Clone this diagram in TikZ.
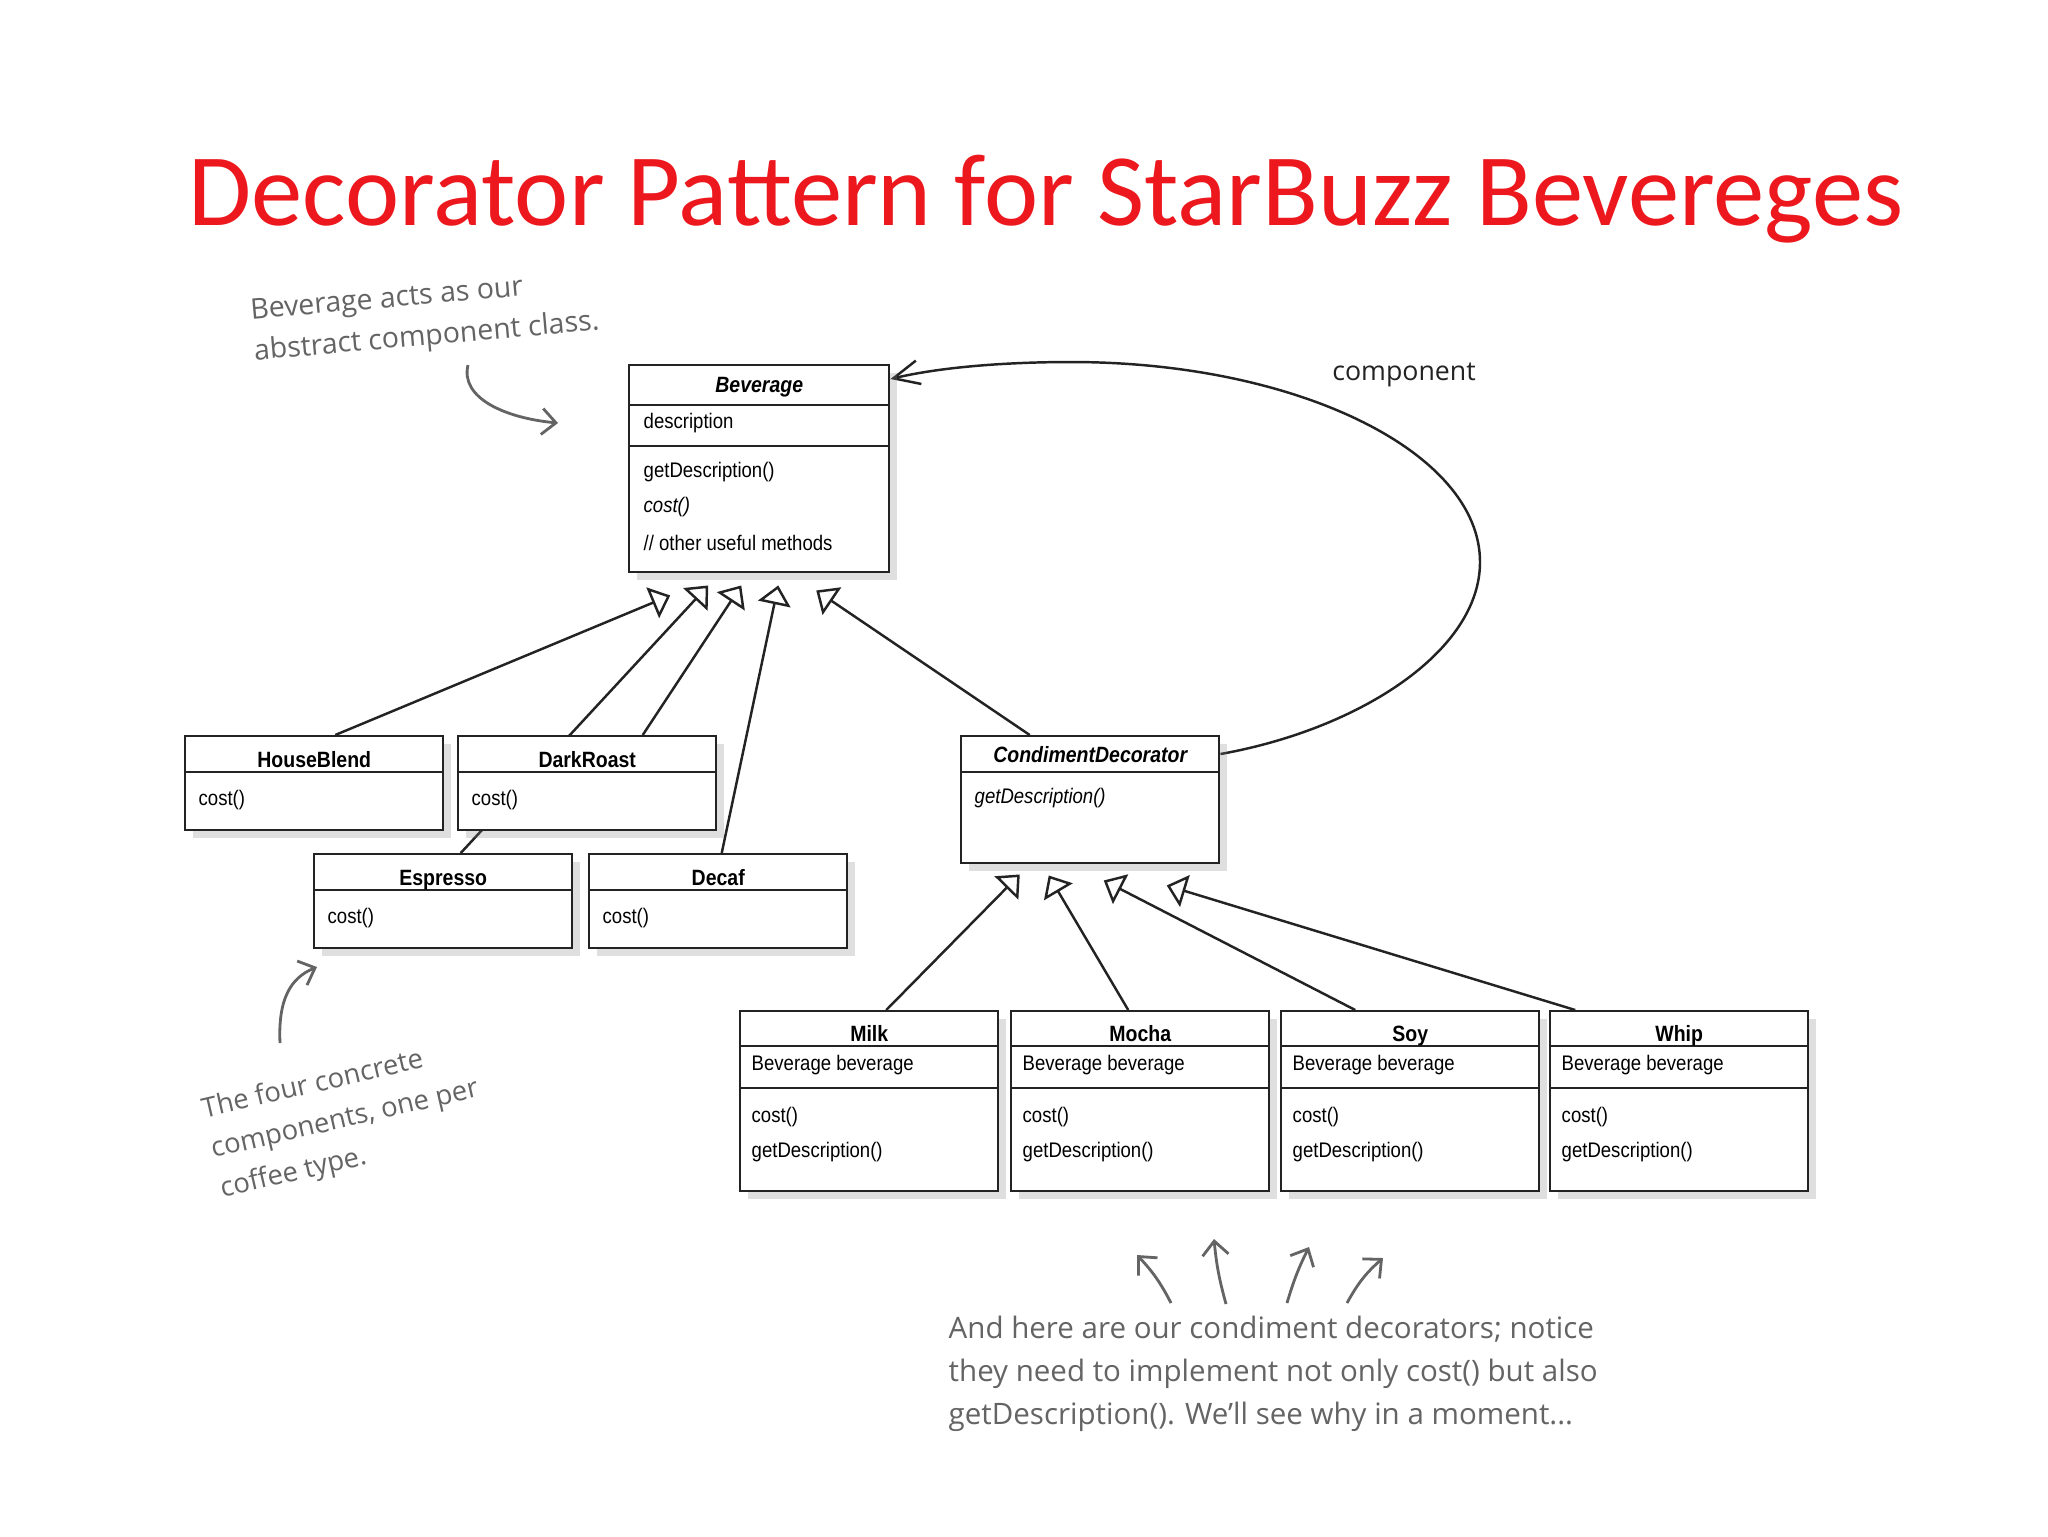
\documentclass[tikz,border=0pt]{standalone}
\usepackage{fontspec}
\setmainfont{Liberation Sans}
\newfontfamily\umlfont[FakeStretch=0.88]{Liberation Sans}
\newfontfamily\titlefont{Carlito}
\newfontfamily\notefont{Open Sans}
\usetikzlibrary{arrows.meta, positioning, calc, shadows, backgrounds}
\definecolor{titlered}{RGB}{236,24,30}
\definecolor{pencil}{RGB}{100,100,100}
\definecolor{inkline}{RGB}{35,35,35}

\begin{document}
\begin{tikzpicture}[x=0.1mm, y=-0.1mm,
  cls/.style={draw=inkline, line width=0.7pt, fill=white, inner sep=0pt, minimum width=25.8mm,
    drop shadow={shadow xshift=0.8mm, shadow yshift=-0.8mm, opacity=0.25}},
  sep/.style={draw=inkline, line width=0.6pt},
  clsname/.style={font=\umlfont\fontsize{6.3}{7}\selectfont\bfseries, inner sep=0pt, anchor=base},
  absname/.style={font=\umlfont\fontsize{6.3}{7}\selectfont\bfseries\itshape, inner sep=0pt, anchor=base},
  member/.style={font=\umlfont\fontsize{6}{7}\selectfont, inner sep=0pt, anchor=west},
  absmember/.style={member, font=\umlfont\fontsize{6}{7}\selectfont\itshape},
  inherit/.style={draw=inkline, line width=0.7pt, -{Triangle[open, length=1.9mm, width=3.3mm]}},
  note/.style={font=\notefont\fontsize{7.8}{11.6}\selectfont, text=pencil, align=left, inner sep=0pt},
  notearrow/.style={draw=pencil, line width=0.8pt, -{Straight Barb[length=1.4mm, width=2.6mm]}}
]
  \useasboundingbox (0,0) rectangle (2048,1536);
  \node[font=\titlefont\fontsize{29.2}{35}\selectfont, text=titlered, anchor=base] (title) at (1046,225)
    {Decorator Pattern for StarBuzz Bevereges};

  % abstract component
  \node[cls, minimum width=26mm, minimum height=20.7mm, anchor=north west] (bev) at (628,364) {};
  \draw[sep] ([yshift=-4.1mm]bev.north west) -- ([yshift=-4.1mm]bev.north east);
  \draw[sep] ([yshift=-8.2mm]bev.north west) -- ([yshift=-8.2mm]bev.north east);
  \node[absname] (bev-name) at ([yshift=-2.8mm]bev.north) {Beverage};
  \node[member] (bev-desc) at ([xshift=1.5mm, yshift=-5.9mm]bev.north west) {description};
  \node[member] (bev-get) at ([xshift=1.5mm, yshift=-10.8mm]bev.north west) {getDescription()};
  \node[absmember] (bev-cost) at ([xshift=1.5mm, yshift=-14.3mm]bev.north west) {cost()};
  \node[member] (bev-other) at ([xshift=1.5mm, yshift=-17.9mm]bev.north west) {// other useful methods};

  % concrete components
  \foreach \n/\t/\x/\y in {hb/HouseBlend/184/735, dr/DarkRoast/457/735, esp/Espresso/313/853, dec/Decaf/588/853} {
    \node[cls, minimum height=9.4mm, anchor=north west] (\n) at (\x,\y) {};
    \draw[sep] ([yshift=-3.7mm]\n.north west) -- ([yshift=-3.7mm]\n.north east);
    \node[clsname] (\n-name) at ([yshift=-3.2mm]\n.north) {\t};
    \node[member] (\n-cost) at ([xshift=1.4mm, yshift=-6.5mm]\n.north west) {cost()};
  }

  % decorator
  \node[cls, minimum height=12.7mm, anchor=north west] (cd) at (960,735) {};
  \draw[sep] ([yshift=-3.7mm]cd.north west) -- ([yshift=-3.7mm]cd.north east);
  \node[absname] (cd-name) at ([yshift=-2.7mm]cd.north) {CondimentDecorator};
  \node[absmember] (cd-get) at ([xshift=1.4mm, yshift=-6.3mm]cd.north west) {getDescription()};

  \foreach \n/\t/\x in {milk/Milk/739, mocha/Mocha/1010, soy/Soy/1280, whip/Whip/1549} {
    \node[cls, minimum height=18mm, anchor=north west] (\n) at (\x,1010) {};
    \draw[sep] ([yshift=-3.6mm]\n.north west) -- ([yshift=-3.6mm]\n.north east);
    \draw[sep] ([yshift=-7.8mm]\n.north west) -- ([yshift=-7.8mm]\n.north east);
    \node[clsname] (\n-name) at ([yshift=-3.1mm]\n.north) {\t};
    \node[member] (\n-attr) at ([xshift=1.2mm, yshift=-5.5mm]\n.north west) {Beverage beverage};
    \node[member] (\n-cost) at ([xshift=1.2mm, yshift=-10.7mm]\n.north west) {cost()};
    \node[member] (\n-get) at ([xshift=1.2mm, yshift=-14.2mm]\n.north west) {getDescription()};
  }

  \node[font=\notefont\fontsize{7.6}{9}\selectfont, text=inkline] (comp) at (1404,375) {component};

  \begin{scope}[on background layer]
    \fill[white] (0,0) rectangle (2048,1536);
    \draw[inherit] ([xshift=2.1mm]hb.north) -- ([xshift=-8.9mm, yshift=-2.2mm]bev.south);
    \draw[inherit] ([xshift=1.75mm]esp.north) -- ([xshift=-5.1mm, yshift=-1.2mm]bev.south);
    \draw[inherit] ([xshift=5.55mm]dr.north) -- ([xshift=-1.8mm, yshift=-1.2mm]bev.south);
    \draw[inherit] ([xshift=0.35mm]dec.north) -- ([xshift=1.9mm, yshift=-1.2mm]bev.south);
    \draw[inherit] ([xshift=-6.05mm]cd.north) -- ([xshift=5.7mm, yshift=-1.7mm]bev.south);
    \draw[inherit] ([xshift=1.7mm]milk.north) -- ([xshift=-7.05mm, yshift=-1.0mm]cd.south);
    \draw[inherit] ([xshift=-1.2mm]mocha.north) -- ([xshift=-4.15mm, yshift=-1.1mm]cd.south);
    \draw[inherit] ([xshift=-5.5mm]soy.north) -- ([xshift=1.35mm, yshift=-1.6mm]cd.south);
    \draw[inherit] ([xshift=-10.4mm]whip.north) -- ([xshift=7.65mm, yshift=-2.1mm]cd.south);
    % component link
    \draw[draw=inkline, line width=0.7pt, -{Straight Barb[length=2.6mm, width=2.4mm]}]
      ([yshift=-1.9mm]cd.north east) .. controls (1360,729) and (1480,651) .. (1480,562)
      .. controls (1480,452) and (1297,362) .. (1071,362)
      .. controls (1014,362) and (945,366) .. ([yshift=-1.5mm]bev.north east);
  \end{scope}

  % handwritten notes
  \node[note, font=\notefont\fontsize{8.1}{11.6}\selectfont, rotate=5] (bevnote) at (425,318)
    {Beverage acts as our\\abstract component class.};
  \coordinate (bevnote-a) at (468,365);
  \coordinate (bevnote-b) at (558,423);
  \draw[notearrow] (bevnote-a) .. controls (460,398) and (505,418) .. (bevnote-b);

  \node[note, rotate=13] (concnote) at (345,1120) {The four concrete\\components, one per\\coffee type.};
  \coordinate (concnote-a) at (280,1043);
  \coordinate (concnote-b) at (317,967);
  \draw[notearrow] (concnote-a) .. controls (278,1000) and (290,978) .. (concnote-b);

  \node[note, font=\notefont\fontsize{8.4}{12.2}\selectfont, anchor=west] (decnote) at (948,1374)
    {And here are our condiment decorators; notice\\they need to implement not only cost() but also\\getDescription(). We’ll see why in a moment...};
  \coordinate (d1a) at (1171,1303); \coordinate (d1b) at (1137,1255);
  \coordinate (d2a) at (1226,1304); \coordinate (d2b) at (1214,1239);
  \coordinate (d3a) at (1287,1303); \coordinate (d3b) at (1309,1247);
  \coordinate (d4a) at (1347,1303); \coordinate (d4b) at (1383,1258);
  \draw[notearrow] (d1a) to[bend right=8] (d1b);
  \draw[notearrow] (d2a) to[bend left=5] (d2b);
  \draw[notearrow] (d3a) to[bend left=5] (d3b);
  \draw[notearrow] (d4a) to[bend left=10] (d4b);
\end{tikzpicture}
\end{document}
